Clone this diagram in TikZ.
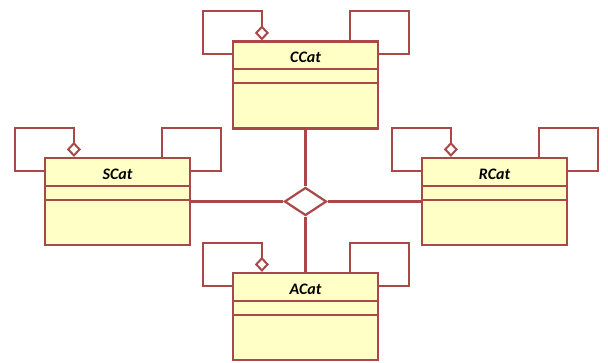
\documentclass[tikz,border=0pt]{standalone}
\usepackage{fontspec}
\setmainfont{Carlito}
\usetikzlibrary{calc,arrows.meta,shapes.geometric}
\definecolor{umlred}{HTML}{A84848}
\definecolor{umlfill}{HTML}{FFFFC6}
\tikzset{
  umlclass/.style={draw=umlred, fill=umlfill, minimum width=145pt, minimum height=87pt, inner sep=0pt},
  umltitle/.style={font=\fontsize{16}{18}\selectfont\bfseries\itshape, inner sep=0pt},
  umlline/.style={draw=umlred, line width=2.2pt},
  hub/.style={diamond, draw=umlred, fill=white, line width=2.2pt, minimum width=42pt, minimum height=28pt, inner sep=0pt, aspect=1.5},
  selfagg/.style={umlline, -{Diamond[open, length=15pt, width=14pt, line width=2pt]}}
}
\begin{document}
\begin{tikzpicture}[x=1pt, y=-1pt]
			%%%%% START %%%%%
			\useasboundingbox[fill=white] (0,0) rectangle (608,363);
			
			\foreach \n/\t/\x/\y in {ccat/CCat/305.5/85, scat/SCat/117.5/201.5, rcat/RCat/494.5/201.5, acat/ACat/305.5/316.5}{
				\node[umlclass, umlline] (\n) at (\x, \y) {};
				\node[umltitle] (\n-title) at ($(\n.north)+(0,17)$) {\t};
				\draw[umlline] ($(\n.north west)+(0,29)$) -- ($(\n.north east)+(0,29)$);
				\draw[umlline] ($(\n.north west)+(0,43)$) -- ($(\n.north east)+(0,43)$);
				
				% self association loops
				\draw[selfagg] ($(\n.north west)+(0,14)$) -| ++(-29,-43) -| ($(\n.north west)+(30,0)$);
				\draw[umlline] ($(\n.north east)+(-29,0)$) |- ++(59,-29) |- ($(\n.north east)+(0,14)$);
			}
			
			\node[hub] (hub) at (305.5,201.5) {};
			
			\draw[umlline] (ccat.south) -- (hub.north);
			\draw[umlline] (acat.north) -- (hub.south);
			\draw[umlline] (scat.east) -- (hub.west);
			\draw[umlline] (rcat.west) -- (hub.east);
			%%%%% END %%%%%
\end{tikzpicture}
\end{document}
